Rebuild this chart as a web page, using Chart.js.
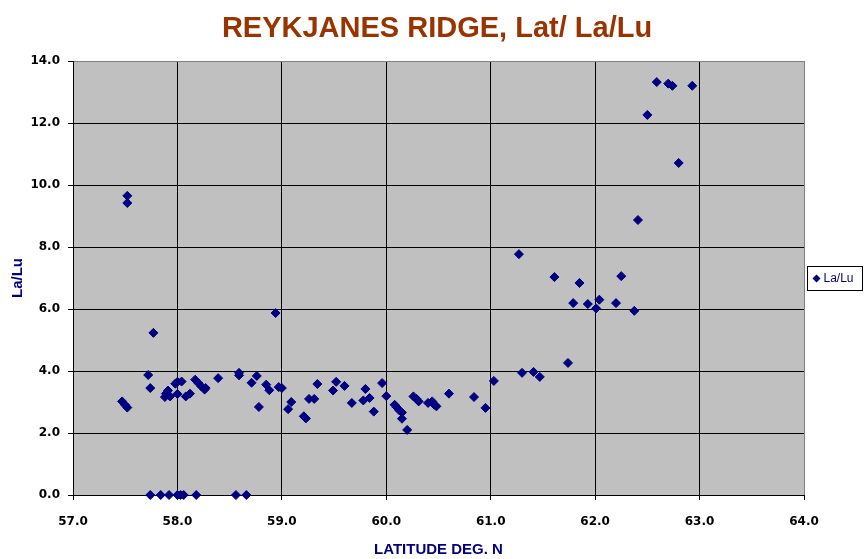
<!DOCTYPE html>
<html>
<head>
<meta charset="utf-8">
<script src="https://cdn.jsdelivr.net/npm/chart.js@4/dist/chart.umd.min.js"></script>
<style>
  html, body { margin: 0; padding: 0; background: #ffffff; }
  #wrap { width: 866px; height: 559px; }
</style>
</head>
<body>
<div id="wrap"><canvas id="c" width="866" height="559"></canvas></div>
<script>
// Latitude (deg N) of each sample
const latitude = [
  57.47, 57.50, 57.52, 57.52, 57.52, 57.77, 57.72, 57.74, 57.88, 57.89,
  57.91, 57.93, 57.98, 58.00, 58.04, 58.00, 58.08, 58.12, 58.17, 58.20,
  58.23, 58.26, 58.27, 58.39, 58.59, 58.59, 58.71, 58.76, 58.78, 58.85,
  58.88, 58.94, 58.97, 59.00, 59.06, 59.09, 59.21, 59.23, 59.26, 59.31,
  59.34, 59.49, 59.52, 59.60, 59.67, 59.78, 59.80, 59.84, 59.88, 59.96,
  60.00, 60.08, 60.10, 60.125, 60.15, 60.15, 60.20, 60.26, 60.29, 60.31,
  60.40, 60.44, 60.46, 60.48, 60.60, 60.84, 60.95, 61.03, 61.27, 61.30,
  61.41, 61.47, 61.61, 61.74, 61.79, 61.85, 61.93, 62.01, 62.04, 62.20,
  62.25, 62.375, 62.41, 62.50, 62.59, 62.70, 62.74, 62.80, 62.93,
  57.74, 57.84, 57.92, 58.00, 58.03, 58.06, 58.18, 58.56, 58.66
];
// La/Lu ratio of each sample
const laLu = [
  3.02, 2.90, 2.82, 9.65, 9.42, 5.23, 3.87, 3.45, 3.16, 3.27,
  3.37, 3.18, 3.59, 3.65, 3.66, 3.26, 3.18, 3.27, 3.72, 3.61,
  3.50, 3.40, 3.45, 3.77, 3.94, 3.86, 3.62, 3.84, 2.84, 3.56,
  3.38, 5.87, 3.48, 3.45, 2.77, 3.00, 2.54, 2.47, 3.10, 3.10,
  3.58, 3.37, 3.65, 3.52, 2.97, 3.05, 3.42, 3.13, 2.69, 3.61,
  3.19, 2.91, 2.83, 2.73, 2.66, 2.46, 2.10, 3.18, 3.10, 3.02,
  2.97, 3.02, 2.91, 2.86, 3.27, 3.16, 2.81, 3.68, 7.77, 3.94,
  3.97, 3.81, 7.03, 4.26, 6.19, 6.84, 6.16, 6.02, 6.30, 6.19,
  7.06, 5.94, 8.87, 12.26, 13.32, 13.27, 13.20, 10.71, 13.20,
  0, 0, 0, 0, 0, 0, 0, 0, 0
];
const xTickLabels = ['57.0','58.0','59.0','60.0','61.0','62.0','63.0','64.0'];
const yTickLabels = ['0.0','2.0','4.0','6.0','8.0','10.0','12.0','14.0'];
const seriesName = 'La/Lu';
const chartTitle = 'REYKJANES RIDGE, Lat/ La/Lu';

const points = latitude.map((x, i) => ({ x: x, y: laLu[i] }));

const plotBg = {
  id: 'plotBg',
  beforeDraw(chart) {
    const a = chart.chartArea, ctx = chart.ctx;
    ctx.save();
    ctx.fillStyle = '#C0C0C0';
    ctx.fillRect(a.left, a.top, a.right - a.left, a.bottom - a.top);
    ctx.restore();
  }
};

const titleText = {
  id: 'titleText',
  afterDraw(chart) {
    const ctx = chart.ctx;
    ctx.save();
    ctx.fillStyle = '#993300';
    ctx.font = 'bold 29px "Liberation Sans", Arial, sans-serif';
    ctx.textAlign = 'center';
    ctx.textBaseline = 'middle';
    ctx.fillText(chartTitle, chart.width / 2 + 4, 29);
    ctx.restore();
  }
};

const legendBox = {
  id: 'legendBox',
  afterDraw(chart) {
    const a = chart.chartArea, ctx = chart.ctx;
    const bx = Math.round(a.right) + 3.5, by = 266.5, bw = 55, bh = 24;
    ctx.save();
    ctx.fillStyle = '#ffffff';
    ctx.fillRect(bx, by, bw, bh);
    ctx.strokeStyle = '#000000';
    ctx.lineWidth = 1;
    ctx.strokeRect(bx, by, bw, bh);
    const mx = bx + 9, my = by + bh / 2;
    ctx.fillStyle = '#000080';
    ctx.beginPath();
    ctx.moveTo(mx, my - 4); ctx.lineTo(mx + 4, my); ctx.lineTo(mx, my + 4); ctx.lineTo(mx - 4, my);
    ctx.closePath(); ctx.fill();
    ctx.fillStyle = '#000080';
    ctx.font = '12px "Liberation Sans", Arial, sans-serif';
    ctx.textBaseline = 'middle';
    ctx.textAlign = 'left';
    ctx.fillText(seriesName, mx + 7, my + 0.5);
    ctx.restore();
  }
};

new Chart(document.getElementById('c'), {
  type: 'scatter',
  data: {
    datasets: [{
      label: seriesName,
      data: points,
      pointStyle: 'rectRot',
      pointRadius: 4.5,
      pointHoverRadius: 4.5,
      backgroundColor: '#000080',
      borderColor: '#000080',
      borderWidth: 1,
      clip: false
    }]
  },
  options: {
    responsive: false,
    animation: false,
    events: [],
    layout: { padding: { left: 0, right: 62, top: 61, bottom: 0 } },
    plugins: {
      legend: { display: false },
      tooltip: { enabled: false },
      title: { display: false }
    },
    scales: {
      x: {
        type: 'linear',
        min: 57, max: 64,
        afterFit(s) { s.height = 64; },
        afterBuildTicks(s) { s.ticks = xTickLabels.map(t => ({ value: parseFloat(t) })); },
        ticks: {
          color: '#000000',
          padding: 15,
          font: { family: '"DejaVu Sans", sans-serif', size: 12, weight: 'bold' },
          callback: (v) => xTickLabels.find(t => parseFloat(t) === v)
        },
        grid: {
          color: (c) => (c.tick && c.tick.value === 64) ? '#808080' : '#000000',
          lineWidth: 1,
          drawTicks: true,
          tickLength: 5,
          tickColor: '#000000'
        },
        border: { display: true, color: '#000000', width: 1 },
        title: {
          display: true,
          text: 'LATITUDE DEG. N',
          color: '#000080',
          font: { family: '"Liberation Sans", Arial, sans-serif', size: 15, weight: 'bold', lineHeight: 1.2 },
          padding: { top: 0, bottom: 0 }
        }
      },
      y: {
        type: 'linear',
        min: 0, max: 14,
        afterFit(s) { s.width = 73; },
        afterBuildTicks(s) { s.ticks = yTickLabels.map(t => ({ value: parseFloat(t) })); },
        ticks: {
          color: '#000000',
          padding: 8,
          font: { family: '"DejaVu Sans", sans-serif', size: 12, weight: 'bold' },
          callback: (v) => yTickLabels.find(t => parseFloat(t) === v)
        },
        grid: {
          color: (c) => (c.tick && c.tick.value === 14) ? '#808080' : '#000000',
          lineWidth: 1,
          drawTicks: true,
          tickLength: 5,
          tickColor: '#000000'
        },
        border: { display: true, color: '#000000', width: 1 },
        title: {
          display: true,
          text: 'La/Lu',
          color: '#000080',
          font: { family: '"Liberation Sans", Arial, sans-serif', size: 15, weight: 'bold', lineHeight: 1.2 },
          padding: { top: 9, bottom: 0 }
        }
      }
    }
  },
  plugins: [plotBg, titleText, legendBox]
});
</script>
</body>
</html>
